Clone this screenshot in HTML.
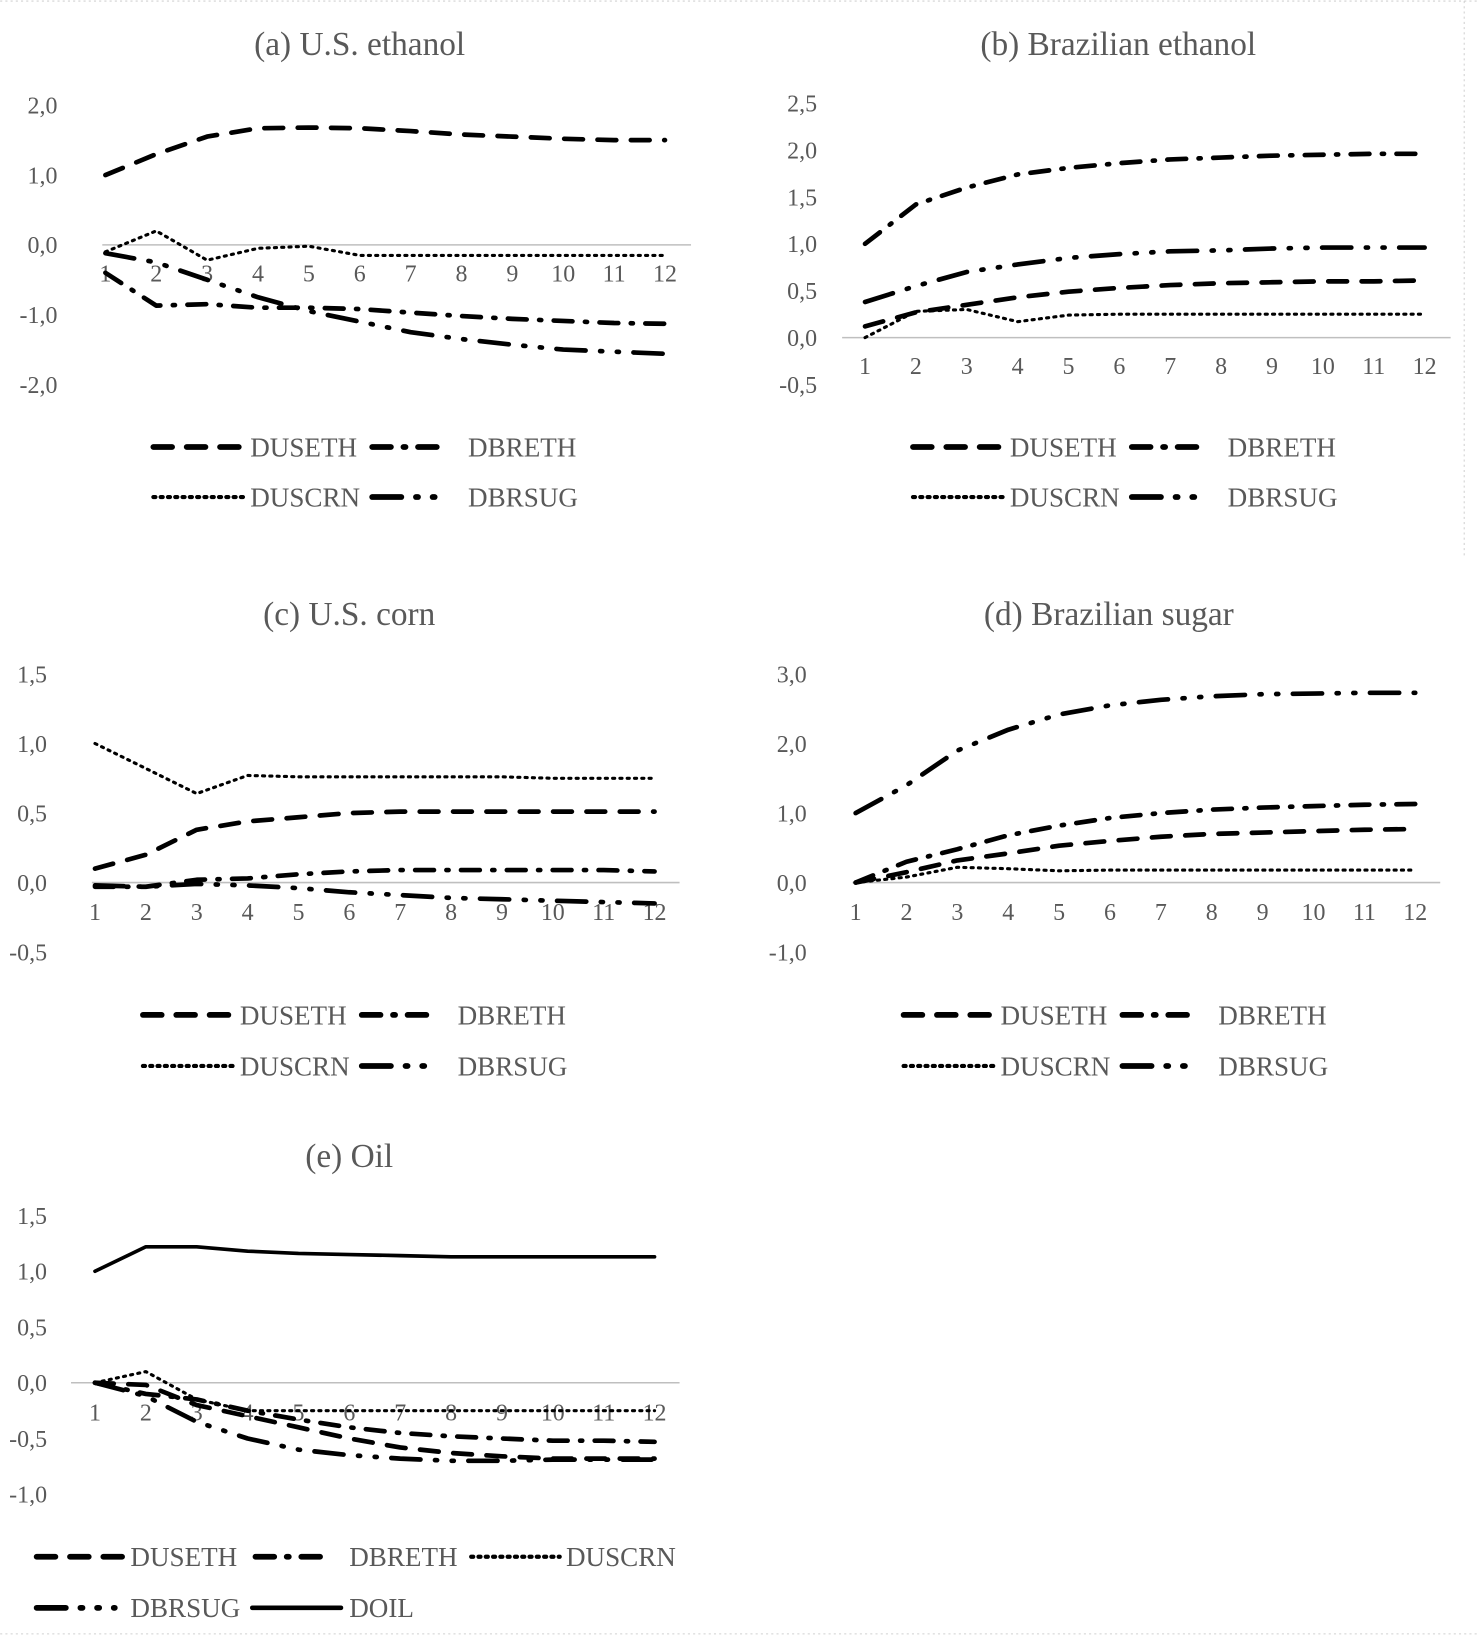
<!DOCTYPE html>
<html><head><meta charset="utf-8"><style>
html,body{margin:0;padding:0;background:#fff;}
svg{display:block;}
text{font-family:"Liberation Serif",serif;fill:#595959;}
</style></head><body>
<svg id="chart" width="1480" height="1637" viewBox="0 0 1420 1571" xmlns="http://www.w3.org/2000/svg"></svg>
<script>
const periods = [1,2,3,4,5,6,7,8,9,10,11,12];
// (a) U.S. ethanol
const aDUSETH = [1.0,1.3,1.55,1.67,1.68,1.67,1.63,1.58,1.55,1.52,1.50,1.50];
const aDBRETH = [-0.4,-0.87,-0.85,-0.9,-0.9,-0.92,-0.97,-1.02,-1.06,-1.09,-1.12,-1.13];
const aDUSCRN = [-0.1,0.2,-0.22,-0.05,-0.02,-0.15,-0.15,-0.15,-0.15,-0.15,-0.15,-0.15];
const aDBRSUG = [-0.12,-0.25,-0.5,-0.75,-0.95,-1.1,-1.25,-1.35,-1.43,-1.5,-1.53,-1.56];
const aTicks = ["2,0","1,0","0,0","-1,0","-2,0"];
// (b) Brazilian ethanol
const bDUSETH = [0.12,0.27,0.35,0.43,0.49,0.53,0.56,0.58,0.59,0.6,0.6,0.61];
const bDBRETH = [1.0,1.42,1.6,1.74,1.81,1.86,1.9,1.92,1.94,1.95,1.96,1.96];
const bDUSCRN = [0.0,0.28,0.3,0.17,0.24,0.25,0.25,0.25,0.25,0.25,0.25,0.25];
const bDBRSUG = [0.38,0.55,0.7,0.78,0.85,0.89,0.92,0.93,0.95,0.96,0.96,0.96];
const bTicks = ["2,5","2,0","1,5","1,0","0,5","0,0","-0,5"];
// (c) U.S. corn
const cDUSETH = [0.1,0.2,0.38,0.44,0.47,0.5,0.51,0.51,0.51,0.51,0.51,0.51];
const cDBRETH = [-0.03,-0.03,0.02,0.03,0.06,0.08,0.09,0.09,0.09,0.09,0.09,0.08];
const cDUSCRN = [1.0,0.82,0.64,0.77,0.76,0.76,0.76,0.76,0.76,0.75,0.75,0.75];
const cDBRSUG = [-0.02,-0.03,-0.01,-0.02,-0.04,-0.07,-0.09,-0.11,-0.12,-0.13,-0.14,-0.15];
const cTicks = ["1,5","1,0","0,5","0,0","-0,5"];
// (d) Brazilian sugar
const dDUSETH = [0,0.15,0.32,0.42,0.53,0.6,0.66,0.7,0.72,0.74,0.76,0.77];
const dDBRETH = [0,0.3,0.48,0.68,0.82,0.93,1.0,1.05,1.08,1.1,1.12,1.13];
const dDUSCRN = [0,0.08,0.22,0.2,0.17,0.18,0.18,0.18,0.18,0.18,0.18,0.18];
const dDBRSUG = [1.0,1.4,1.9,2.2,2.42,2.55,2.63,2.68,2.71,2.72,2.73,2.73];
const dTicks = ["3,0","2,0","1,0","0,0","-1,0"];
// (e) Oil
const eDUSETH = [0,-0.02,-0.2,-0.3,-0.4,-0.5,-0.58,-0.63,-0.66,-0.68,-0.68,-0.68];
const eDBRETH = [0,-0.1,-0.15,-0.25,-0.33,-0.4,-0.45,-0.48,-0.5,-0.52,-0.52,-0.53];
const eDUSCRN = [0,0.1,-0.15,-0.25,-0.25,-0.25,-0.25,-0.25,-0.25,-0.25,-0.25,-0.25];
const eDBRSUG = [0,-0.12,-0.35,-0.5,-0.6,-0.65,-0.68,-0.7,-0.7,-0.69,-0.69,-0.69];
const eDOIL = [1.0,1.22,1.22,1.18,1.16,1.15,1.14,1.13,1.13,1.13,1.13,1.13];
const eTicks = ["1,5","1,0","0,5","0,0","-0,5","-1,0"];

const NS="http://www.w3.org/2000/svg";
const svg=document.getElementById('chart');
const STY={
 DUSETH:{dash:"18 14",w:4.5,cap:"round"},
 DBRETH:{dash:"18 12 2 12",w:4.5,cap:"round"},
 DUSCRN:{dash:"2 5",w:3,cap:"round"},
 DBRSUG:{dash:"28 14 2 14 2 14",w:4.5,cap:"round"},
 DOIL:{dash:"",w:3.5,cap:"round"}
};
function mk(tag,at,parent){const e=document.createElementNS(NS,tag);for(const k in at)e.setAttribute(k,at[k]);(parent||svg).appendChild(e);return e;}

const fr=mk('path',{d:'M0 1 H1420 M1405 1 V535 M0 1568 H1420',fill:'none',stroke:'#d0d0d0','stroke-width':1,'stroke-dasharray':'2 3'});



function panel(cfg){
 const g=mk('g',{});
 
 
 const tt=mk('text',{x:cfg.titleX,y:cfg.titleY,'font-size':32,'text-anchor':'middle'},g);
 tt.textContent=cfg.title;
 
 
 const y=v=>cfg.zeroY-(v)*cfg.pxPerUnit;
 const x=p=>cfg.x1+(p-1)*(cfg.x12-cfg.x1)/11;
 cfg.ticks.forEach((t,i)=>{
  const v=cfg.tickMax-i*cfg.tickStep;
  const lb=mk('text',{x:cfg.labelX,y:y(v)+8,'font-size':23,'text-anchor':'end'},g);
  lb.textContent=t;
  
  
 });
 const zl=mk('line',{x1:cfg.zx0,x2:cfg.zx1,y1:y(0),y2:y(0),stroke:'#bfbfbf','stroke-width':1.5},g);
 
 
 periods.forEach(p=>{
  const lb=mk('text',{x:x(p),y:cfg.xLabY+8,'font-size':23,'text-anchor':'middle'},g);
  lb.textContent=p;
  
  
 });
 cfg.series.forEach(s=>{
  const st=STY[s.name];
  const d=s.data.map((v,i)=>(i?'L':'M')+x(periods[i]).toFixed(1)+' '+y(v).toFixed(1)).join(' ');
  const pa=mk('path',{d:d,fill:'none',stroke:'#000','stroke-width':st.w,'stroke-dasharray':st.dash,'stroke-linecap':st.cap,'stroke-linejoin':'round'},g);
  
  
 });
 cfg.legend.forEach(L=>{
  const st=STY[L.name];
  const ln=mk('line',{x1:L.x,x2:L.x+L.len,y1:L.y,y2:L.y,stroke:'#000','stroke-width':st.w+1,'stroke-dasharray':st.dash,'stroke-linecap':st.cap},g);
  
  
  const tx=mk('text',{x:L.tx,y:L.y+9,'font-size':26},g);
  tx.textContent=L.name;
  
  
 });
}
function leg4(x,y1,y2){return [
 {name:'DUSETH',x:x,len:88,tx:x+93,y:y1},
 {name:'DBRETH',x:x+210,len:72,tx:x+302,y:y1},
 {name:'DUSCRN',x:x,len:88,tx:x+93,y:y2},
 {name:'DBRSUG',x:x+210,len:72,tx:x+302,y:y2}];}

panel({id:'a',title:'(a) U.S. ethanol',titleX:345,titleY:53,zeroY:235,pxPerUnit:67,tickMax:2,tickStep:1,ticks:aTicks,labelX:55,
 x1:101,x12:638,zx0:98,zx1:663,xLabY:262,
 series:[{name:'DUSETH',data:aDUSETH},{name:'DBRETH',data:aDBRETH},{name:'DUSCRN',data:aDUSCRN},{name:'DBRSUG',data:aDBRSUG}],
 legend:leg4(147,429,477)});
panel({id:'b',title:'(b) Brazilian ethanol',titleX:1073,titleY:53,zeroY:324,pxPerUnit:90,tickMax:2.5,tickStep:0.5,ticks:bTicks,labelX:784,
 x1:830,x12:1367,zx0:808,zx1:1392,xLabY:351,
 series:[{name:'DUSETH',data:bDUSETH},{name:'DBRETH',data:bDBRETH},{name:'DUSCRN',data:bDUSCRN},{name:'DBRSUG',data:bDBRSUG}],
 legend:leg4(876,429,477)});
panel({id:'c',title:'(c) U.S. corn',titleX:335,titleY:600,zeroY:847,pxPerUnit:133.5,tickMax:1.5,tickStep:0.5,ticks:cTicks,labelX:45,
 x1:91,x12:628,zx0:88,zx1:652,xLabY:875,
 series:[{name:'DUSETH',data:cDUSETH},{name:'DBRETH',data:cDBRETH},{name:'DUSCRN',data:cDUSCRN},{name:'DBRSUG',data:cDBRSUG}],
 legend:leg4(137,974,1023)});
panel({id:'d',title:'(d) Brazilian sugar',titleX:1064,titleY:600,zeroY:847,pxPerUnit:66.7,tickMax:3,tickStep:1,ticks:dTicks,labelX:774,
 x1:821,x12:1358,zx0:818,zx1:1382,xLabY:875,
 series:[{name:'DUSETH',data:dDUSETH},{name:'DBRETH',data:dDBRETH},{name:'DUSCRN',data:dDUSCRN},{name:'DBRSUG',data:dDBRSUG}],
 legend:leg4(867,974,1023)});
panel({id:'e',title:'(e) Oil',titleX:335,titleY:1120,zeroY:1327,pxPerUnit:107,tickMax:1.5,tickStep:0.5,ticks:eTicks,labelX:45,
 x1:91,x12:628,zx0:68,zx1:652,xLabY:1355,
 series:[{name:'DUSETH',data:eDUSETH},{name:'DBRETH',data:eDBRETH},{name:'DUSCRN',data:eDUSCRN},{name:'DBRSUG',data:eDBRSUG},{name:'DOIL',data:eDOIL}],
 legend:[
  {name:'DUSETH',x:35,len:85,tx:125,y:1494},
  {name:'DBRETH',x:245,len:70,tx:335,y:1494},
  {name:'DUSCRN',x:452,len:85,tx:543,y:1494},
  {name:'DBRSUG',x:35,len:75,tx:125,y:1543},
  {name:'DOIL',x:242,len:85,tx:335,y:1543}]});
</script>
</body></html>
